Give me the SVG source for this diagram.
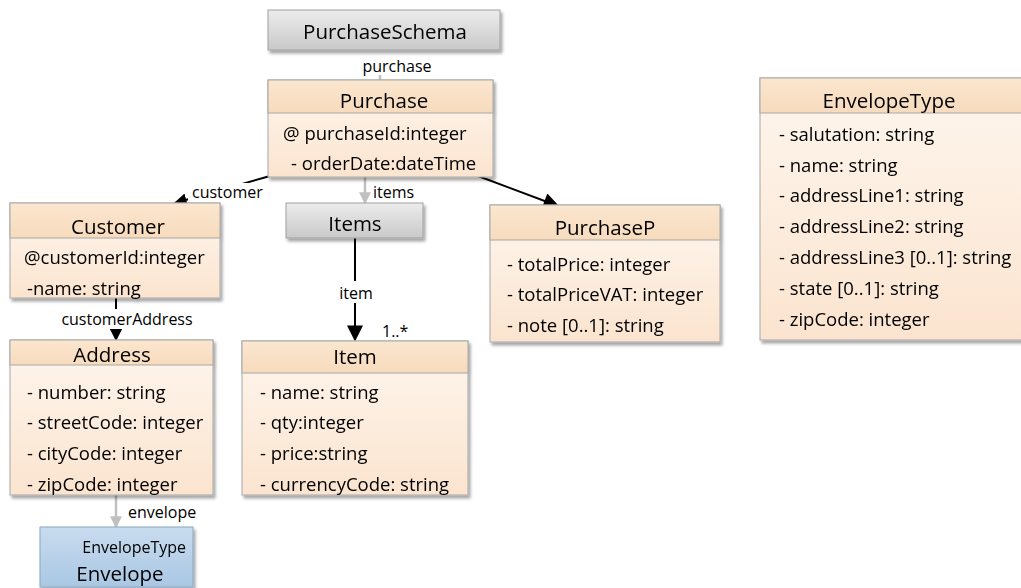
<svg xmlns="http://www.w3.org/2000/svg" width="1021" height="588" viewBox="0 0 1021 588">
<defs>
<linearGradient id="gHdr" x1="0" y1="0" x2="0" y2="1"><stop offset="0" stop-color="#fbe6cf"/><stop offset="1" stop-color="#f7dbbd"/></linearGradient>
<linearGradient id="gBody" x1="0" y1="0" x2="0" y2="1"><stop offset="0" stop-color="#fef6ee"/><stop offset="1" stop-color="#fbe4cf"/></linearGradient>
<linearGradient id="gGray" x1="0" y1="0" x2="0" y2="1"><stop offset="0" stop-color="#ececec"/><stop offset="1" stop-color="#c9c9c9"/></linearGradient>
<linearGradient id="gBlue" x1="0" y1="0" x2="0" y2="1"><stop offset="0" stop-color="#c9dcef"/><stop offset="1" stop-color="#a9c7e4"/></linearGradient>
<filter id="sh" x="-5%" y="-5%" width="115%" height="125%"><feDropShadow dx="2" dy="3" stdDeviation="1.5" flood-color="#000" flood-opacity="0.35"/></filter>
<marker id="aBig" viewBox="0 0 10 10" refX="9" refY="5" markerWidth="18" markerHeight="16" orient="auto" markerUnits="userSpaceOnUse"><path d="M0,0 L10,5 L0,10 z" fill="#000"/></marker>
<marker id="aMid" viewBox="0 0 10 10" refX="9" refY="5" markerWidth="13" markerHeight="13" orient="auto" markerUnits="userSpaceOnUse"><path d="M0,0 L10,5 L0,10 z" fill="#000"/></marker>
<marker id="aGray" viewBox="0 0 10 10" refX="9" refY="5" markerWidth="12" markerHeight="12" orient="auto" markerUnits="userSpaceOnUse"><path d="M0,0 L10,5 L0,10 z" fill="#c0c0c0"/></marker>
</defs>
<style>
.hdr{fill:url(#gHdr);stroke:#a8a8a8;stroke-width:1}
.body{fill:url(#gBody);stroke:#a8a8a8;stroke-width:1}
.gray{fill:url(#gGray);stroke:#a0a0a0;stroke-width:1}
.blue{fill:url(#gBlue);stroke:#8aa6c2;stroke-width:1}
.t{font-family:"Open Sans","Liberation Sans",sans-serif;font-size:18.5px;fill:#000}
.ti{font-family:"Open Sans","Liberation Sans",sans-serif;font-size:20.5px;fill:#000;text-anchor:middle}
.lb{font-family:"Open Sans","Liberation Sans",sans-serif;font-size:16px;fill:#000}
.blk{stroke:#000;stroke-width:2;fill:none}
.gr{stroke:#c0c0c0;stroke-width:2.5;fill:none}
</style>

<g id="connectors">
  <line class="gr" x1="380" y1="75" x2="380" y2="80" stroke-width="1.5"/>
  <text class="lb" x="397" y="72" text-anchor="middle">purchase</text>
  <line class="blk" x1="270" y1="176" x2="175" y2="203" marker-end="url(#aMid)"/>
  <rect x="188" y="183" width="76" height="18" fill="#fff"/>
  <text class="lb" x="192" y="198">customer</text>
  <line class="gr" x1="365" y1="177" x2="365" y2="203" marker-end="url(#aGray)"/>
  <text class="lb" x="373" y="198">items</text>
  <line class="blk" x1="470" y1="173" x2="558" y2="206" marker-end="url(#aBig)"/>
  <line class="blk" x1="355" y1="238" x2="355" y2="340" stroke-width="2.5" marker-end="url(#aBig)"/>
  <rect x="333" y="281" width="44" height="22" fill="#fff"/>
  <text class="lb" x="356" y="299" text-anchor="middle" font-size="18">item</text>
  <text class="lb" x="382" y="337" font-size="10">1..*</text>
  <line class="blk" x1="116" y1="298" x2="116" y2="340" marker-end="url(#aMid)"/>
  <rect x="35" y="309" width="165" height="20" fill="#fff"/>
  <text class="lb" x="127" y="325" text-anchor="middle">customerAddress</text>
  <line class="gr" x1="116" y1="495" x2="116" y2="527" marker-end="url(#aGray)"/>
  <text class="lb" x="128" y="518">envelope</text>
</g>

<g id="PurchaseSchema" filter="url(#sh)">
  <rect class="gray" x="268" y="10" width="232" height="40"/>
  <text class="ti" x="385" y="39">PurchaseSchema</text>
</g>

<g id="Purchase" filter="url(#sh)">
  <rect class="body" x="268" y="80" width="225" height="97"/>
  <rect class="hdr" x="268" y="80" width="225" height="33"/>
  <text class="ti" x="384" y="108">Purchase</text>
  <text class="t" x="283" y="140">@ purchaseId:integer</text>
  <text class="t" x="291" y="170">- orderDate:dateTime</text>
</g>

<g id="Customer" filter="url(#sh)">
  <rect class="body" x="10" y="203" width="210" height="95"/>
  <rect class="hdr" x="10" y="203" width="210" height="35"/>
  <text class="ti" x="118" y="234">Customer</text>
  <text class="t" x="24" y="264">@customerId:integer</text>
  <text class="t" x="27" y="295">-name: string</text>
</g>

<g id="Items" filter="url(#sh)">
  <rect class="gray" x="286" y="203" width="137" height="35"/>
  <text class="ti" x="355" y="231">Items</text>
</g>

<g id="PurchaseP" filter="url(#sh)">
  <rect class="body" x="490" y="205" width="230" height="137"/>
  <rect class="hdr" x="490" y="205" width="230" height="35"/>
  <text class="ti" x="605" y="235">PurchaseP</text>
  <text class="t" x="507" y="271">- totalPrice: integer</text>
  <text class="t" x="507" y="301">- totalPriceVAT: integer</text>
  <text class="t" x="507" y="332">- note [0..1]: string</text>
</g>

<g id="EnvelopeType" filter="url(#sh)">
  <rect class="body" x="760" y="78" width="262" height="262"/>
  <rect class="hdr" x="760" y="78" width="262" height="35"/>
  <text class="ti" x="889" y="108">EnvelopeType</text>
  <text class="t" x="779" y="141">- salutation: string</text>
  <text class="t" x="779" y="172">- name: string</text>
  <text class="t" x="779" y="202">- addressLine1: string</text>
  <text class="t" x="779" y="233">- addressLine2: string</text>
  <text class="t" x="779" y="264">- addressLine3 [0..1]: string</text>
  <text class="t" x="779" y="295">- state [0..1]: string</text>
  <text class="t" x="779" y="326">- zipCode: integer</text>
</g>

<g id="Address" filter="url(#sh)">
  <rect class="body" x="10" y="340" width="203" height="155"/>
  <rect class="hdr" x="10" y="340" width="203" height="25"/>
  <text class="ti" x="112" y="362">Address</text>
  <text class="t" x="27" y="399">- number: string</text>
  <text class="t" x="27" y="429">- streetCode: integer</text>
  <text class="t" x="27" y="460">- cityCode: integer</text>
  <text class="t" x="27" y="491">- zipCode: integer</text>
</g>

<g id="Item" filter="url(#sh)">
  <rect class="body" x="242" y="341" width="226" height="154"/>
  <rect class="hdr" x="242" y="341" width="226" height="32"/>
  <text class="ti" x="355" y="364">Item</text>
  <text class="t" x="260" y="399">- name: string</text>
  <text class="t" x="260" y="429">- qty:integer</text>
  <text class="t" x="260" y="460">- price:string</text>
  <text class="t" x="260" y="491">- currencyCode: string</text>
</g>

<g id="Envelope" filter="url(#sh)">
  <rect class="blue" x="40" y="527" width="153" height="60"/>
  <text class="lb" x="186" y="553" text-anchor="end" font-size="16.5">EnvelopeType</text>
  <text class="ti" x="120" y="581">Envelope</text>
</g>
</svg>
